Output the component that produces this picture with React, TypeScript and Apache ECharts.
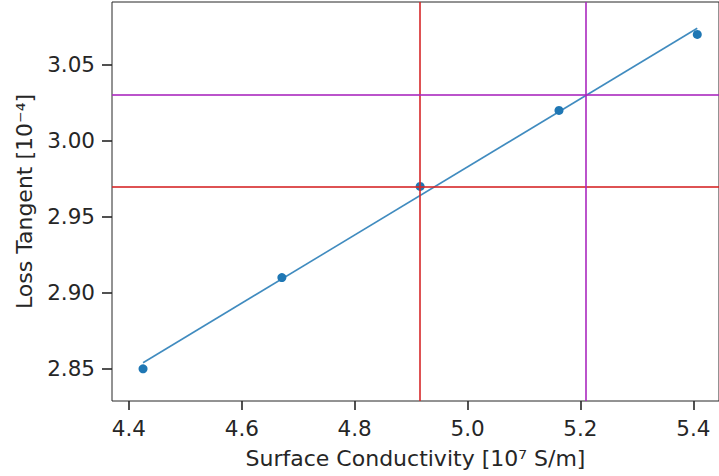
import React, { useEffect, useRef } from "react";
import * as echarts from "echarts";

const conductivity = [4.425, 4.671, 4.916, 5.162, 5.407];
const lossTangent = [2.85, 2.91, 2.97, 3.02, 3.07];
const fitX = [4.425, 5.407];
const fitY = [2.854, 3.074];
const redX = 4.916;
const redY = 2.97;
const magentaX = 5.209;
const magentaY = 3.03;
const xTicks = [4.4, 4.6, 4.8, 5.0, 5.2, 5.4];
const yTicks = [2.85, 2.9, 2.95, 3.0, 3.05];
const xName = "Surface Conductivity [10⁷ S/m]";
const yName = "Loss Tangent [10⁻⁴]";

const FONT = "DejaVu Sans";
const INK = "#262626";

export default function App() {
  const ref = useRef<HTMLDivElement>(null);
  useEffect(() => {
    if (!ref.current) return;
    const chart = echarts.init(ref.current, null, { renderer: "svg" });
    const red = "rgba(214,39,40,0.8)";
    const mag = "rgba(170,40,190,0.8)";
    chart.setOption({
      animation: false,
      backgroundColor: "#ffffff",
      grid: {
        left: 112,
        top: 2,
        right: -1,
        bottom: 75,
        show: true,
        borderColor: INK,
        borderWidth: 1,
        backgroundColor: "transparent",
      },
      xAxis: {
        type: "value",
        min: 4.37,
        max: 5.4455,
        name: xName,
        nameLocation: "middle",
        nameGap: 46,
        nameTextStyle: { fontFamily: FONT, fontSize: 22, color: INK },
        axisLine: { show: false },
        splitLine: { show: false },
        axisTick: {
          show: true,
          customValues: xTicks,
          length: 9,
          lineStyle: { color: INK, width: 1.6 },
        },
        axisLabel: {
          customValues: xTicks,
          margin: 16,
          fontFamily: FONT,
          fontSize: 21.5,
          color: INK,
          formatter: (v: number) => v.toFixed(1),
        },
      },
      yAxis: {
        type: "value",
        min: 2.8288,
        max: 3.0913,
        name: yName,
        nameLocation: "middle",
        nameRotate: 90,
        nameGap: 77,
        nameTextStyle: { fontFamily: FONT, fontSize: 22, color: INK },
        axisLine: { show: false },
        splitLine: { show: false },
        axisTick: {
          show: true,
          customValues: yTicks,
          length: 10,
          lineStyle: { color: INK, width: 1.6 },
        },
        axisLabel: {
          customValues: yTicks,
          margin: 17,
          fontFamily: FONT,
          fontSize: 21.5,
          color: INK,
          formatter: (v: number) => v.toFixed(2),
        },
      },
      series: [
        {
          type: "line",
          z: 2,
          data: fitX.map((x, i) => [x, fitY[i]]),
          showSymbol: false,
          symbol: "none",
          lineStyle: { color: "rgba(31,119,180,0.85)", width: 1.6 },
        },
        {
          type: "scatter",
          z: 3,
          data: conductivity.map((x, i) => [x, lossTangent[i]]),
          symbolSize: 9,
          itemStyle: { color: "#1f77b4", opacity: 1 },
        },
        {
          type: "scatter",
          z: 4,
          data: [],
          markLine: {
            silent: true,
            symbol: "none",
            precision: 4,
            label: { show: false },
            data: [
              { xAxis: redX, lineStyle: { color: red, width: 2, type: "solid" } },
              { yAxis: redY, lineStyle: { color: red, width: 2, type: "solid" } },
              { xAxis: magentaX, lineStyle: { color: mag, width: 2, type: "solid" } },
              { yAxis: magentaY, lineStyle: { color: mag, width: 2, type: "solid" } },
            ],
          },
        },
      ],
    });
    return () => chart.dispose();
  }, []);
  return (
    <div
      ref={ref}
      style={{ position: "absolute", left: 0, top: 0, width: 719, height: 476, background: "#fff" }}
    />
  );
}
